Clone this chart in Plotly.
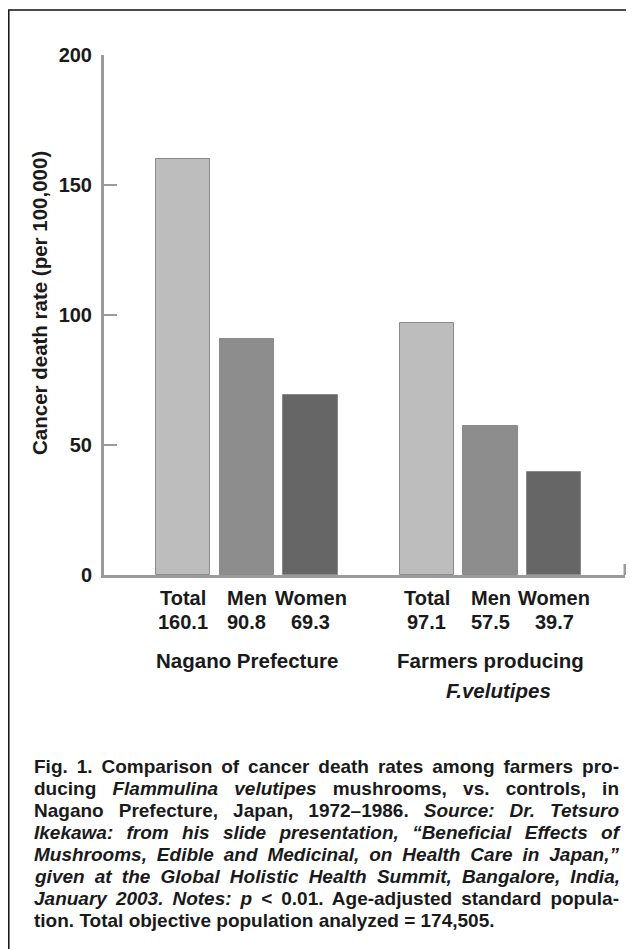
import json
import plotly.graph_objects as go

# ---- data ----
group_names = ["Nagano Prefecture", "Farmers producing"]
group_sub = ["", "F.velutipes"]
categories = ["Total", "Men", "Women"]
nagano_values = [160.1, 90.8, 69.3]
farmer_values = [97.1, 57.5, 39.7]
y_ticks = [0, 50, 100, 150, 200]
y_title = "Cancer death rate (per 100,000)"
caption_lines = [
    "Fig. 1. Comparison of cancer death rates among farmers pro-",
    "ducing <i>Flammulina velutipes</i> mushrooms, vs. controls, in",
    "Nagano Prefecture, Japan, 1972–1986. <i>Source: Dr. Tetsuro</i>",
    "<i>Ikekawa: from his slide presentation, “Beneficial Effects of</i>",
    "<i>Mushrooms, Edible and Medicinal, on Health Care in Japan,”</i>",
    "<i>given at the Global Holistic Health Summit, Bangalore, India,</i>",
    "<i>January 2003. Notes: p</i> &lt; 0.01. Age-adjusted standard popula-",
    "tion. Total objective population analyzed = 174,505.",
]

# ---- layout constants (page pixels; page has an 8px body margin) ----
OFF = 8
W, H = 634 - OFF, 949 - OFF
L, R, T, B = 104 - OFF, 9, 55 - OFF, 374
PW, PH = W - L - R, H - T - B
GROUP_STEP = 3.82
bar_colors = ["#bdbdbd", "#8d8d8d", "#666666"]
line_col = "#9a9a9a"
FONT = "Liberation Sans, Arial, sans-serif"
CAP_FONT = "Liberation Sans, Arial, sans-serif"
TXT = "#1a1a1a"
CAPTION_RIGHT = 619  # justified right edge (page px)


def px_x(px):
    return (px - OFF - L) / PW


def px_y(py):
    return (H - B - (py - OFF)) / PH


def note(text, x, y, size, xref="paper", family=FONT, **kw):
    fig.add_annotation(x=x, xref=xref, y=y, yref="paper", text=text,
                       showarrow=False, xanchor=kw.pop("xanchor", "center"),
                       yanchor="middle",
                       font=dict(family=family, size=size, color=TXT), **kw)
    return len(fig.layout.annotations) - 1


fig = go.Figure()
all_values = [nagano_values, farmer_values]
for gi, vals in enumerate(all_values):
    xs = [gi * GROUP_STEP + i for i in range(len(categories))]
    fig.add_trace(go.Bar(
        x=xs, y=vals, width=0.85,
        marker=dict(color=bar_colors, line=dict(color="#8a8a8a", width=1)),
        showlegend=False, hoverinfo="skip",
    ))
    for i, (cat, v) in enumerate(zip(categories, vals)):
        note("<b>%s</b>" % cat, xs[i], px_y(598), 20, xref="x")
        note("<b>%s</b>" % v, xs[i], px_y(622), 20, xref="x")
    note("<b>%s</b>" % group_names[gi], xs[1], px_y(660), 20.5, xref="x")
    if group_sub[gi]:
        note("<b><i>%s</i></b>" % group_sub[gi], xs[1] + 0.12, px_y(690), 20.5,
             xref="x")

# y title
note("<b>%s</b>" % y_title, px_x(39), px_y(303), 20.5, textangle=-90)

# caption (all lines but the last are justified)
justify_idx = []
for k, line in enumerate(caption_lines):
    idx = note("<b>%s</b>" % line, px_x(33), px_y(766 + k * 22.1), 19,
               family=CAP_FONT, xanchor="left", align="left", borderpad=0)
    if k < len(caption_lines) - 1:
        justify_idx.append(idx)

# frame (only left/top edges fall inside the picture)
fig.add_shape(type="rect", xref="paper", yref="paper",
              x0=px_x(8.8), x1=px_x(700), y0=px_y(1000), y1=px_y(10),
              line=dict(color="#111111", width=1.5), layer="below")
# small upturn at the right end of the baseline
fig.add_shape(type="line", xref="paper", yref="paper",
              x0=1, x1=1, y0=0, y1=px_y(564),
              line=dict(color=line_col, width=3))

fig.update_layout(
    width=W, height=H, margin=dict(l=L, r=R, t=T, b=B),
    paper_bgcolor="white", plot_bgcolor="white",
    bargap=0,
    xaxis=dict(range=[-1.238, 6.928], showticklabels=False, ticks="",
               showgrid=False, zeroline=False, showline=True,
               linecolor=line_col, linewidth=3),
    yaxis=dict(range=[0, 200], tickvals=y_ticks, ticks="inside", ticklen=13,
               tickwidth=2, tickcolor=line_col, showgrid=False, zeroline=False,
               showline=True, linecolor=line_col, linewidth=3,
               tickfont=dict(family=FONT, size=20, color=TXT, weight="bold"),
               ticklabelstandoff=5),
)

justify_js = """
var gd = document.getElementById('{plot_id}');
var idx = %s;
var right = %d;
gd.querySelectorAll('g.annotation').forEach(function(g){
  var i = parseInt(g.getAttribute('data-index'));
  if (idx.indexOf(i) < 0) return;
  var t = g.querySelector('text.annotation-text');
  if (!t) return;
  t.style.wordSpacing = '0px';
  var len = t.getComputedTextLength();
  var left = t.getBoundingClientRect().left;
  var n = (t.textContent.match(/ /g) || []).length;
  if (n > 0) t.style.wordSpacing = ((right - left - len) / n) + 'px';
});
""" % (json.dumps(justify_idx), CAPTION_RIGHT)

fig.write_html("out.html", post_script=justify_js)
